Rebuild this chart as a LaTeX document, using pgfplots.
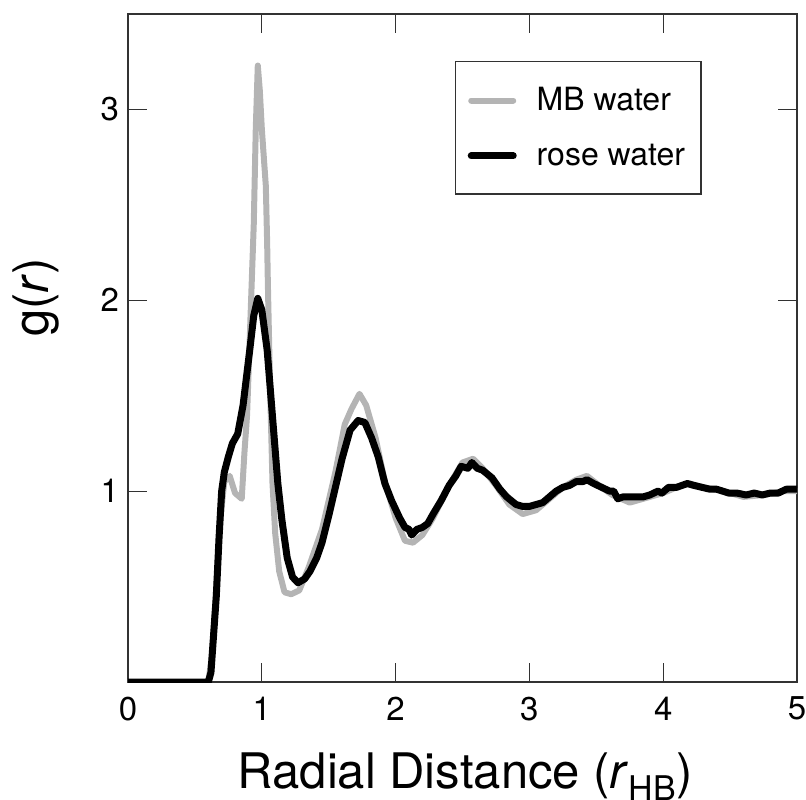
\documentclass[border=0pt]{standalone}
\usepackage{pgfplots}
\pgfplotsset{compat=1.18}
\usepackage{fontspec}
\setmainfont{TeX Gyre Heros}
\definecolor{mbgray}{RGB}{180,180,180}
\definecolor{axgray}{RGB}{50,50,50}
\begin{document}
\begin{tikzpicture}
\useasboundingbox (-64pt,-58.5pt) rectangle (339pt,341pt);
\begin{axis}[
  at={(0,0)}, anchor=south west,
  scale only axis, width=334.5pt, height=334pt,
  xmin=0, xmax=5, ymin=0, ymax=3.5,
  xtick={0,1,2,3,4,5}, ytick={1,2,3},
  tick align=inside, major tick length=9.5pt,
  axis line style={axgray, line width=0.6pt},
  every tick/.style={axgray, line width=0.6pt},
  tick label style={font=\fontsize{16.5}{19}\selectfont},
  /pgf/number format/assume math mode=true,
  xticklabel style={yshift=-4pt},
  yticklabel style={xshift=-1pt},
  xlabel={Radial Distance (\textit{r}\raisebox{-6pt}{\fontsize{17}{20}\selectfont HB})},
  xlabel style={at={(axis description cs:0.504,-0.160)}, anchor=base, font=\fontsize{24.5}{28}\selectfont},
  ylabel={g(\textit{r})},
  ylabel style={at={(axis description cs:-0.138,0.576)}, anchor=center, rotate=0, font=\fontsize{24.5}{28}\selectfont},
  legend style={at={(axis description cs:0.489,0.930)}, anchor=north west, draw=axgray, line width=0.6pt,
    font=\fontsize{16}{19}\selectfont, inner xsep=6pt, inner ysep=11pt, row sep=11pt,
    /tikz/every odd column/.append style={column sep=8pt}},
  legend cell align=left,
  legend image code/.code={\draw[#1, line cap=round] (0pt,0pt) -- (21pt,0pt);},
]
\addplot[mbgray, line width=3pt, line join=round] coordinates {
(0,0)(0.6,0)(0.63,0.15)(0.66,0.5)(0.69,0.85)(0.72,1.05)(0.76,1.08)(0.80,0.99)(0.85,0.96)(0.87,1.2)(0.89,1.4)(0.91,1.8)(0.925,2.1)(0.94,2.4)(0.955,2.9)(0.97,3.23)(0.985,3.1)(1.0,2.9)(1.03,2.6)(1.04,2.3)(1.045,2.1)(1.06,1.6)(1.08,1.04)(1.10,0.78)(1.13,0.58)(1.17,0.47)(1.22,0.46)(1.28,0.48)(1.35,0.6)(1.45,0.8)(1.55,1.1)(1.62,1.35)(1.67,1.43)(1.73,1.51)(1.78,1.45)(1.85,1.28)(1.92,1.05)(2.0,0.86)(2.07,0.74)(2.13,0.73)(2.2,0.77)(2.28,0.86)(2.4,1.03)(2.5,1.15)(2.58,1.17)(2.65,1.12)(2.75,1.03)(2.85,0.93)(2.95,0.88)(3.05,0.90)(3.15,0.96)(3.25,1.02)(3.35,1.06)(3.43,1.08)(3.52,1.03)(3.62,0.98)(3.75,0.94)(3.85,0.96)(4.0,0.99)(4.1,1.02)(4.2,1.04)(4.3,1.02)(4.45,1.0)(4.6,0.97)(4.75,0.98)(4.9,1.0)(5.0,1.0)
};
\addlegendentry{MB water}
\addplot[black, line width=3.5pt, line join=round] coordinates {
(0,0)(0.6,0)(0.62,0.05)(0.64,0.25)(0.66,0.45)(0.68,0.75)(0.70,1.0)(0.72,1.1)(0.75,1.18)(0.78,1.25)(0.82,1.3)(0.86,1.45)(0.91,1.74)(0.94,1.92)(0.97,2.01)(1.0,1.95)(1.04,1.74)(1.08,1.39)(1.12,1.04)(1.15,0.85)(1.19,0.65)(1.23,0.55)(1.27,0.52)(1.32,0.54)(1.36,0.58)(1.41,0.65)(1.45,0.73)(1.5,0.87)(1.55,1.02)(1.6,1.17)(1.66,1.32)(1.72,1.37)(1.77,1.36)(1.82,1.28)(1.87,1.18)(1.92,1.04)(1.97,0.95)(2.03,0.86)(2.07,0.81)(2.10,0.80)(2.12,0.77)(2.16,0.80)(2.20,0.81)(2.24,0.83)(2.28,0.88)(2.34,0.95)(2.40,1.03)(2.45,1.08)(2.49,1.13)(2.54,1.12)(2.57,1.15)(2.61,1.12)(2.65,1.11)(2.72,1.07)(2.78,1.01)(2.83,0.97)(2.90,0.93)(2.95,0.92)(3.0,0.92)(3.05,0.93)(3.10,0.94)(3.15,0.97)(3.20,1.0)(3.25,1.02)(3.30,1.03)(3.35,1.05)(3.40,1.05)(3.43,1.06)(3.48,1.04)(3.54,1.02)(3.60,1.0)(3.63,1.0)(3.66,0.96)(3.70,0.97)(3.77,0.97)(3.85,0.97)(3.9,0.98)(3.96,1.0)(3.99,0.99)(4.04,1.02)(4.10,1.02)(4.14,1.03)(4.18,1.04)(4.23,1.03)(4.29,1.02)(4.35,1.01)(4.40,1.01)(4.49,0.99)(4.55,0.99)(4.62,0.98)(4.68,0.99)(4.74,0.98)(4.80,0.99)(4.86,0.99)(4.92,1.01)(5.0,1.01)
};
\addlegendentry{rose water}
\end{axis}
\end{tikzpicture}
\end{document}
